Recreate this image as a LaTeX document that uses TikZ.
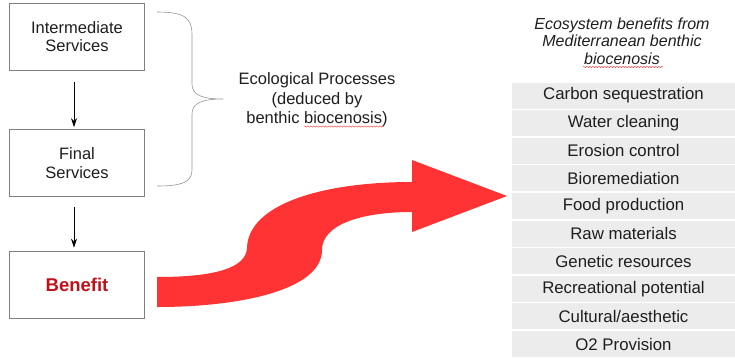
\documentclass[tikz,border=0pt]{standalone}
\usepackage{fontspec}
\setmainfont{Liberation Sans}
\usetikzlibrary{arrows.meta,decorations.pathmorphing}
\definecolor{boxgray}{RGB}{128,128,128}
\definecolor{rowgray}{RGB}{236,236,236}
\definecolor{txt}{RGB}{30,30,30}
\definecolor{benred}{RGB}{192,16,24}
\definecolor{bigred}{RGB}{255,51,51}
\definecolor{bracegray}{RGB}{150,150,150}
\tikzset{
  svcbox/.style={draw=boxgray, line width=0.8pt, fill=white, minimum width=135pt, minimum height=67pt, align=center, text=txt, font=\fontsize{16.5}{18.5}\selectfont},
  downarr/.style={-{Stealth[length=9pt,width=6pt]}, line width=0.6pt, black},
  rowbox/.style={fill=rowgray, minimum width=223pt, minimum height=26pt, inner sep=0pt, text=txt, font=\fontsize{16.8}{18.5}\selectfont},
  squig/.style={red!80, line width=0.4pt, decorate, decoration={snake, segment length=3pt, amplitude=0.7pt}},
}
\begin{document}
\begin{tikzpicture}[x=1pt,y=-1pt]
\useasboundingbox (0,0) rectangle (735,359);
% boxes
\node[svcbox] (inter) at (77,36.5) {Intermediate\\Services};
\node[svcbox] (final) at (77,163) {Final\\Services};
\node[svcbox, font=\fontsize{18.5}{20}\selectfont\bfseries, text=benred] (ben) at (77,284.5) {Benefit};
\draw[downarr, shorten <=12pt, shorten >=2pt] ([xshift=-3pt]inter.south) -- ([xshift=-3pt]final.north);
\draw[downarr, shorten <=10pt, shorten >=3pt] ([xshift=-3pt]final.south) -- ([xshift=-3pt]ben.north);
% brace
\draw[bracegray, line width=0.6pt] (157,12) .. controls (185,12) and (192,18) .. (192,35)
  -- (192,84) .. controls (192,95) and (202,99) .. (223,99)
  .. controls (202,99) and (192,103) .. (192,114)
  -- (192,170) .. controls (192,182) and (182,186) .. (157,186);
\node[align=center, text=txt, font=\fontsize{16.5}{19.5}\selectfont] (eco) at (317,100) {Ecological Processes\\(deduced by\\benthic biocenosis)};
\draw[squig] (304,126.5) -- (384,126.5);
% big red arrow
\fill[bigred] (157,277) .. controls (215,277) and (246,268) .. (247,248)
  .. controls (248,205) and (320,182) .. (412,182)
  -- (412,160) -- (507,196) -- (412,232) -- (412,212)
  .. controls (360,212) and (322,225) .. (322,250)
  .. controls (322,290) and (240,307) .. (157,307) -- cycle;
% title
\node[align=center, text=txt, font=\fontsize{16}{17.5}\selectfont\itshape] (title) at (622,41) {Ecosystem benefits from\\Mediterranean benthic\\biocenosis};
\draw[squig] (583,67) -- (663,67);
% list
\foreach \t [count=\i from 0] in {Carbon sequestration,Water cleaning,Erosion control,Bioremediation,Food production,Raw materials,Genetic resources,Recreational potential,Cultural/aesthetic,O2 Provision}
  \node[rowbox] (r\i) at (623.5,{95.6+27.6*\i}) {\t};
\end{tikzpicture}
\end{document}
